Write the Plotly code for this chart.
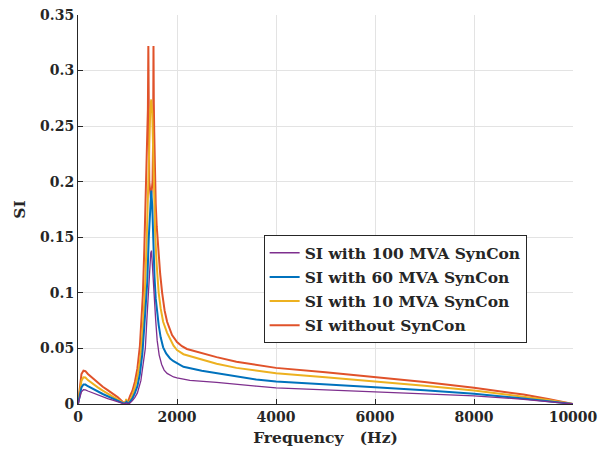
import plotly.graph_objects as go

# ---- data ----
f_red = [0, 30, 70, 110, 150, 200, 300, 400, 500, 600, 700, 800, 880, 930, 960, 980, 1000, 1020, 1050,
         1100, 1150, 1200, 1250, 1280, 1310, 1340, 1370, 1400, 1412, 1421, 1428, 1440, 1473, 1506, 1518,
         1525, 1532, 1540, 1555, 1570, 1590, 1610, 1630, 1660, 1700, 1750, 1800, 1850, 1900, 2000, 2100,
         2200, 2500, 2800, 3200, 3600, 4000, 5000, 6000, 7000, 8000, 9000, 9500, 10000]
si_red = [0, 0.014, 0.027, 0.030, 0.0295, 0.027, 0.023, 0.019, 0.0155, 0.0125, 0.0095, 0.0062, 0.003,
          0.0008, 0.002, 0.003, 0.002, 0.003, 0.007, 0.012, 0.02, 0.032, 0.052, 0.073, 0.098, 0.14, 0.19,
          0.235, 0.265, 0.322, 0.24, 0.2, 0.185, 0.2, 0.24, 0.322, 0.27, 0.245, 0.205, 0.18, 0.16, 0.145,
          0.132, 0.117, 0.1, 0.084, 0.074, 0.067, 0.062, 0.0557, 0.052, 0.0495, 0.0455, 0.0422, 0.038,
          0.035, 0.0325, 0.0285, 0.0242, 0.0198, 0.0146, 0.0085, 0.0045, 0]

f_yel = [0, 30, 70, 110, 150, 200, 300, 400, 500, 600, 700, 800, 880, 930, 960, 975, 990, 1010, 1050,
         1100, 1150, 1200, 1250, 1280, 1310, 1350, 1390, 1420, 1440, 1460, 1480, 1500, 1520, 1540, 1560,
         1590, 1630, 1670, 1720, 1800, 1860, 1930, 2000, 2130, 2500, 2800, 3200, 3600, 4000,
         5000, 6000, 7000, 8000, 9000, 9500, 10000]
si_yel = [0, 0.011, 0.021, 0.024, 0.0238, 0.0215, 0.018, 0.015, 0.012, 0.0095, 0.007, 0.0045,
          0.002, 0.0005, 0.002, 0.0045, 0.002, 0.0005, 0.003,
          0.008, 0.015, 0.024, 0.038, 0.05, 0.07, 0.1, 0.15, 0.2, 0.235, 0.265, 0.274, 0.262, 0.225,
          0.185, 0.152, 0.125, 0.1, 0.086, 0.074, 0.064, 0.0585, 0.0525, 0.0485, 0.0448,
          0.040, 0.0362, 0.0325, 0.030, 0.0277, 0.024, 0.0203, 0.0165, 0.0122, 0.0068, 0.0037, 0]

f_blu = [0, 30, 70, 110, 150, 200, 300, 400, 500, 600, 700, 800, 880, 930, 960, 980, 1000, 1020, 1050,
         1100, 1150, 1200, 1250, 1300, 1340, 1370, 1400, 1430, 1455, 1480, 1500, 1520, 1545, 1570,
         1600, 1630, 1670, 1720, 1780, 1860, 1930, 2000, 2130, 2500, 2800, 3200, 3600, 4000,
         5000, 6000, 7000, 8000, 9000, 9500, 10000]
si_blu = [0, 0.008, 0.015, 0.0176, 0.0175, 0.016, 0.0135, 0.0112, 0.009, 0.007, 0.005, 0.003,
          0.0012, 0.0003, 0.001, 0.002, 0.001, 0.0005, 0.002,
          0.005, 0.01, 0.016, 0.027, 0.045, 0.07, 0.09, 0.11, 0.15, 0.178, 0.192, 0.178, 0.145, 0.115,
          0.095, 0.082, 0.071, 0.06, 0.051, 0.0455, 0.041, 0.0385, 0.0365, 0.0335,
          0.030, 0.0278, 0.0245, 0.022, 0.0203, 0.018, 0.0151, 0.0123, 0.0092, 0.005, 0.0028, 0]

f_pur = [0, 30, 70, 110, 150, 200, 300, 400, 500, 600, 700, 800, 880, 930, 960, 980, 1000, 1020, 1050,
         1100, 1150, 1200, 1270, 1320, 1360, 1390, 1420, 1450, 1470, 1485, 1500, 1520, 1540, 1570,
         1600, 1640, 1690, 1740, 1800, 1930, 2000, 2260, 2800, 3140, 3600, 4000,
         5000, 6000, 7000, 8000, 9000, 9500, 10000]
si_pur = [0, 0.006, 0.011, 0.0128, 0.0127, 0.0117, 0.0098, 0.008, 0.0063, 0.0048, 0.0034, 0.002,
          0.0008, 0.0002, 0.0005, 0.001, 0.0005, 0.0002, 0.001,
          0.003, 0.006, 0.01, 0.021, 0.035, 0.05, 0.075, 0.1, 0.125, 0.136, 0.138, 0.125, 0.112, 0.1,
          0.075, 0.057, 0.044, 0.0355, 0.0305, 0.0275, 0.0243, 0.0235, 0.0212, 0.0195, 0.0178, 0.016,
          0.0145, 0.0128, 0.0113, 0.0093, 0.0074, 0.0042, 0.0023, 0]

series_names = ["SI without SynCon", "SI with 10 MVA SynCon",
                "SI with 60 MVA SynCon", "SI with 100 MVA SynCon"]
series_freqs = [f_red, f_yel, f_blu, f_pur]
series_values = [si_red, si_yel, si_blu, si_pur]
series_colors = ["#E0522A", "#EDB120", "#0072BD", "#7E2F8E"]
series_widths = [2, 2, 2, 1.3]
legend_rank = [4, 3, 2, 1]

x_ticks = [0, 2000, 4000, 6000, 8000, 10000]
x_tick_text = ["0", "2000", "4000", "6000", "8000", "10000"]
y_ticks = [0, 0.05, 0.1, 0.15, 0.2, 0.25, 0.3, 0.35]
y_tick_text = ["0", "0.05", "0.1", "0.15", "0.2", "0.25", "0.3", "0.35"]

font_family = "DejaVu Serif"
ink = "#262626"

fig = go.Figure()
for name, fx, vals, col, w, rk in zip(series_names, series_freqs, series_values,
                                       series_colors, series_widths, legend_rank):
    fig.add_trace(go.Scatter(x=fx, y=vals, mode="lines", name=name, legendrank=rk,
                             legendgroup=name, line=dict(color=col, width=w)))

axis_common = dict(showline=True, linecolor=ink, linewidth=1, ticks="inside", ticklen=5,
                   tickcolor=ink, showgrid=True, gridcolor="#e3e3e3", gridwidth=1,
                   zeroline=False, mirror=False, automargin=False,
                   tickfont=dict(family=font_family, size=14, color=ink, weight="bold"))

fig.update_layout(
    width=600, height=455,
    margin=dict(l=78, r=27, t=15, b=51),
    plot_bgcolor="white", paper_bgcolor="white",
    font=dict(family=font_family, color=ink),
    xaxis=dict(range=[0, 10000], tickvals=x_ticks, ticktext=x_tick_text,
               title=dict(text="Frequency   (Hz)",
                          font=dict(family=font_family, size=15.5, weight="bold", color=ink),
                          standoff=8),
               **axis_common),
    yaxis=dict(range=[0, 0.35], tickvals=y_ticks, ticktext=y_tick_text,
               title=dict(text="SI", font=dict(family=font_family, size=15.5, weight="bold", color=ink),
                          standoff=10),
               **axis_common),
    legend=dict(x=0.375, y=0.434, xanchor="left", yanchor="top", tracegroupgap=1,
                bgcolor="white", bordercolor=ink, borderwidth=1,
                font=dict(family=font_family, size=15.5, color=ink, weight="bold")),
    showlegend=True,
)

fig.write_html("out.html")
